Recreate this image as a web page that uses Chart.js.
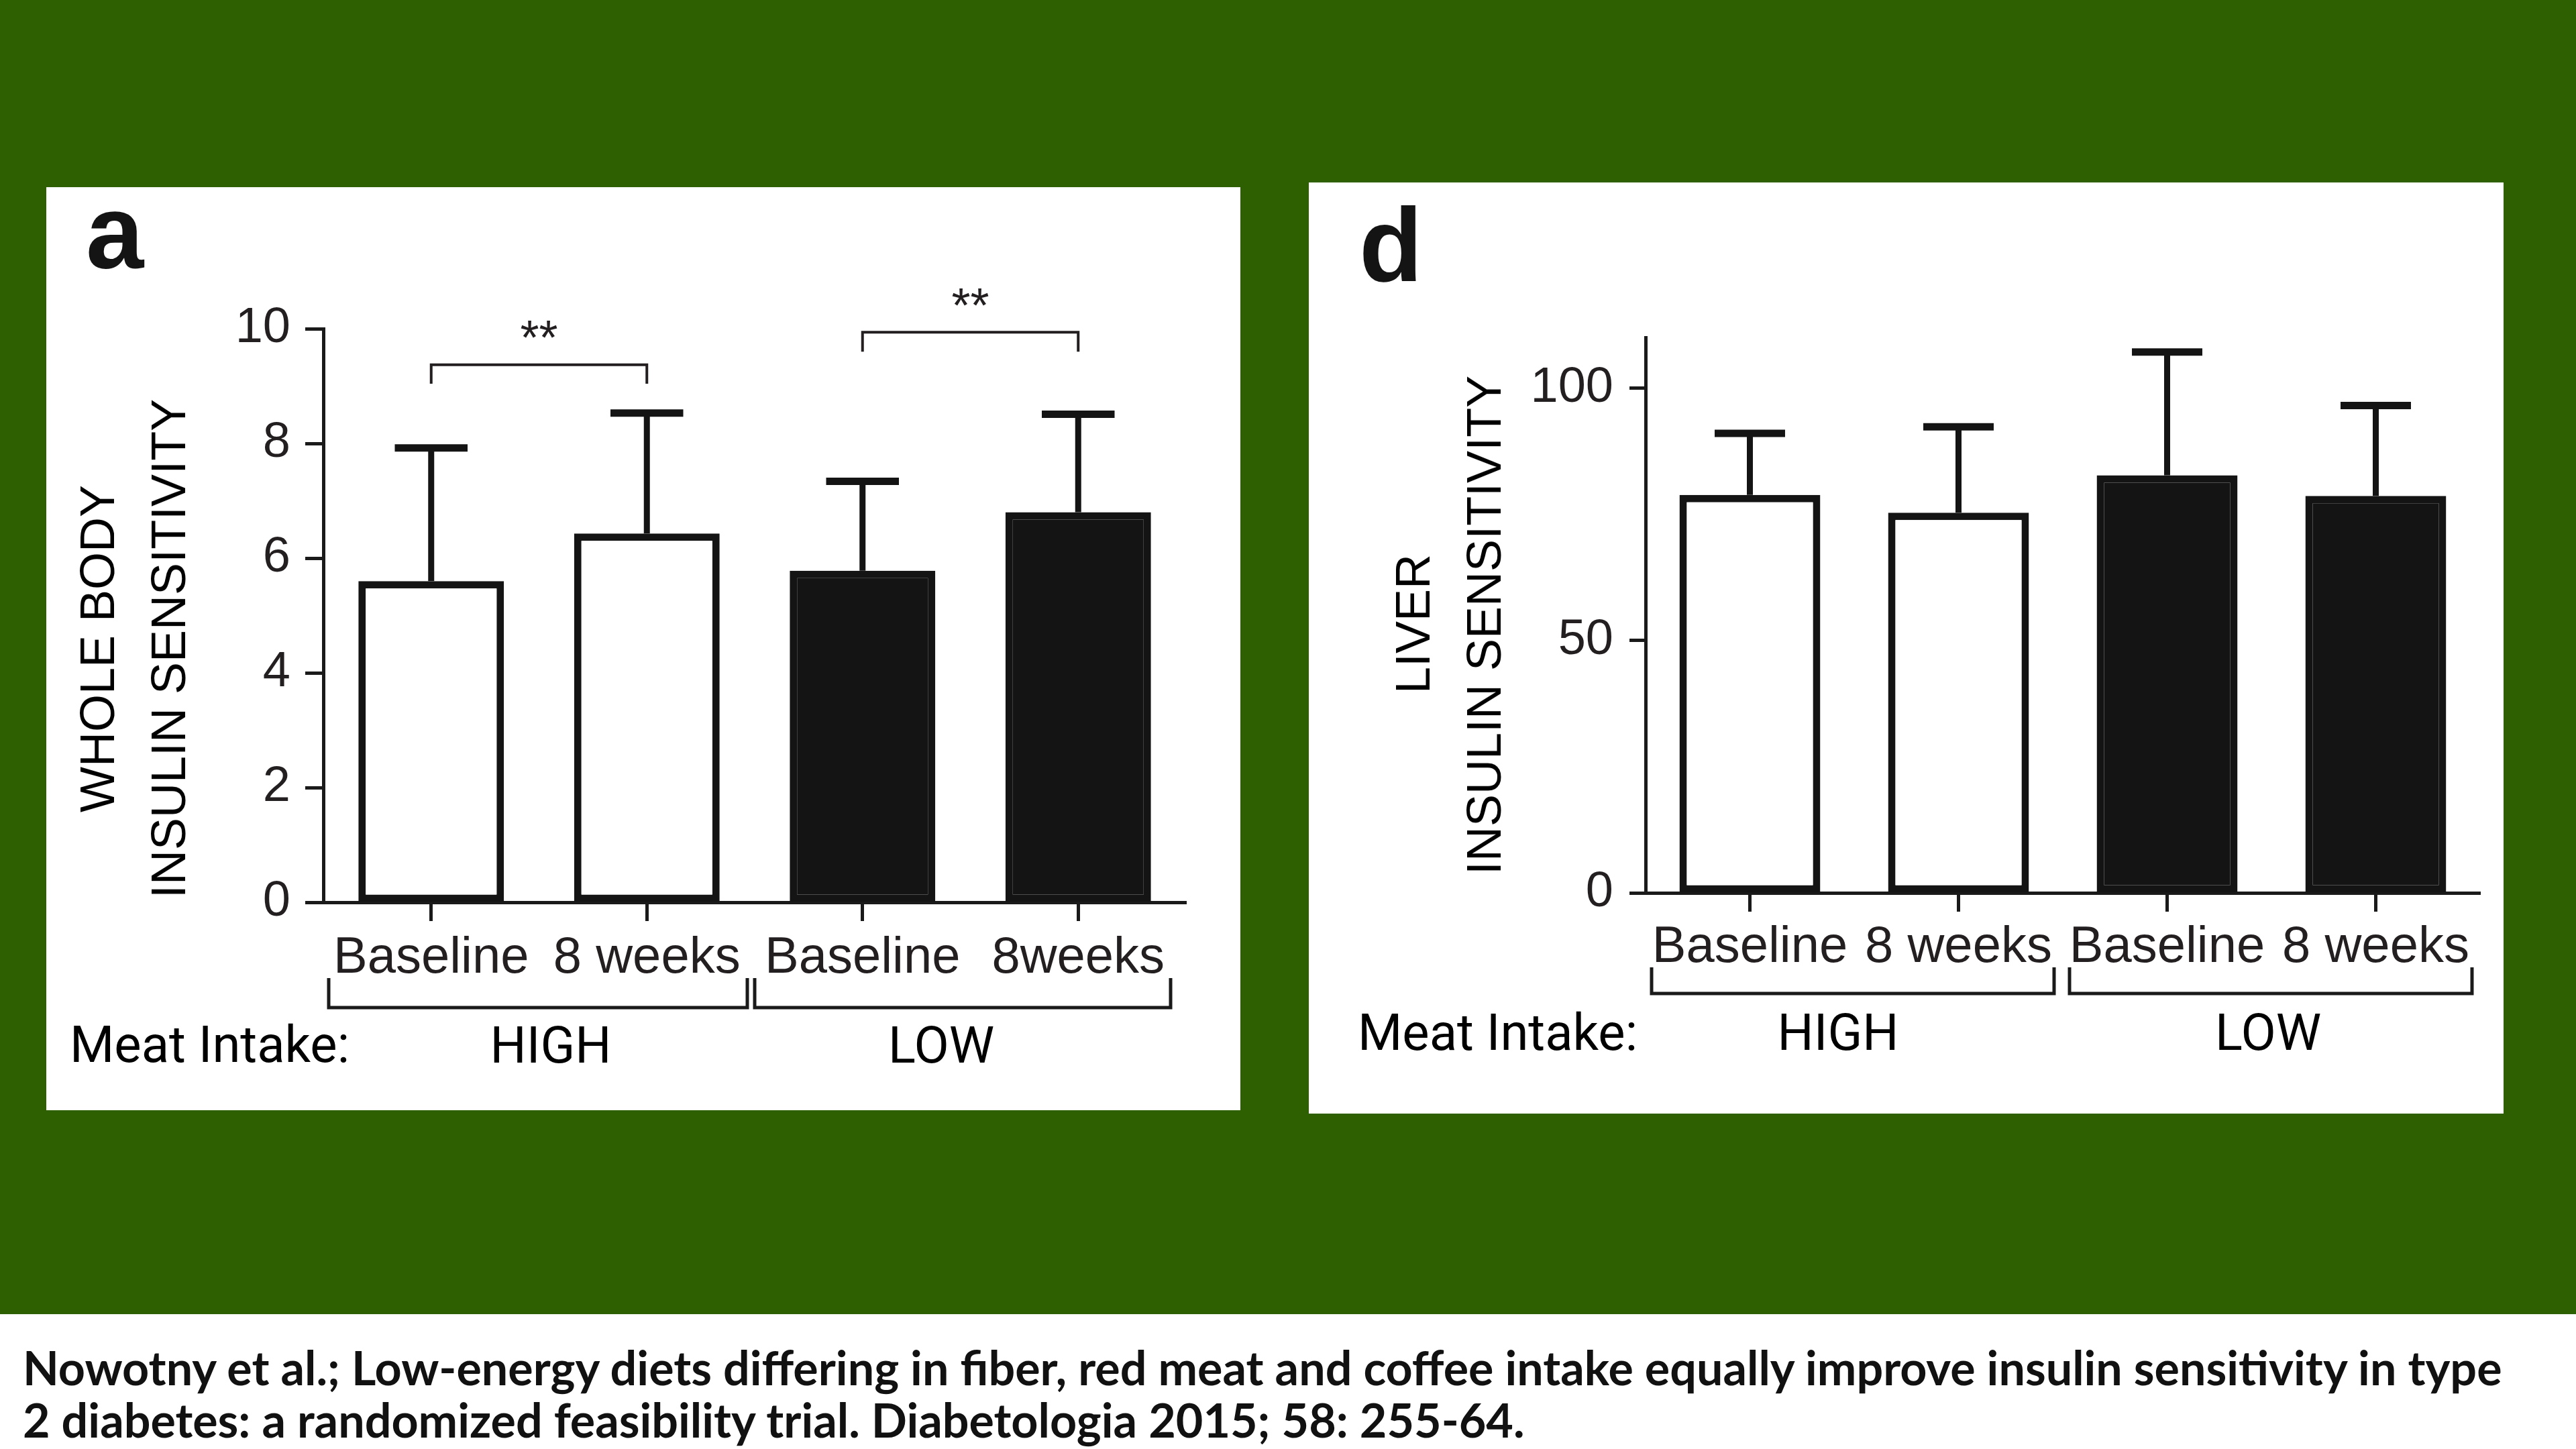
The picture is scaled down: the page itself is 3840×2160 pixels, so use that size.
<!DOCTYPE html>
<html>
<head>
<meta charset="utf-8">
<script src="https://cdn.jsdelivr.net/npm/chart.js@4.4.0/dist/chart.umd.min.js"></script>
<style>
  body { margin: 0; width: 3840px; height: 2160px; background: #2e5f00; position: relative; overflow: hidden; font-family: 'Liberation Sans', Arial, sans-serif; }
  .panel { position: absolute; background: #fff; }
  .panel canvas { position: absolute; left: 0; top: 0; }
  .t { position: absolute; white-space: nowrap; line-height: 1; color: #000; }
  .c { transform: translate(-50%, -50%); }
  .l { transform: translate(0, -50%); }
  .v { transform: translate(-50%, -50%) rotate(-90deg); }
  .letter { font-family: 'Liberation Sans', Arial, sans-serif; font-weight: bold; font-size: 155px; color: #141414; }
  .ytitle { font-family: 'Liberation Sans', Arial, sans-serif; font-size: 72px; }
  .grp { font-family: Roboto, sans-serif; font-size: 76px; }
  #band { position: absolute; left: 0; top: 1959px; width: 3840px; height: 201px; background: #fff; }
  .cap { position: absolute; left: 34px; white-space: nowrap; line-height: 1; font-family: Lato, 'Noto Sans', sans-serif; font-weight: 700; font-size: 60px; color: #111; transform: translate(0, -50%); }
</style>
</head>
<body>

<div class="panel" style="left:69px; top:279px; width:1780px; height:1376px;">
  <canvas id="graficoA" width="1780" height="1376"></canvas>
</div>
<div class="panel" style="left:1951px; top:272px; width:1781px; height:1388px;">
  <canvas id="graficoD" width="1781" height="1388"></canvas>
</div>

<!-- textos panel a -->
<div class="t l letter" style="left:128px; top:345px;">a</div>
<div class="t v ytitle" style="left:145px; top:967px;">WHOLE BODY</div>
<div class="t v ytitle" style="left:251px; top:967px;">INSULIN SENSITIVITY</div>
<div class="t l grp" style="left:104px; top:1557px;">Meat Intake:</div>
<div class="t c grp" style="left:821px; top:1558px;">HIGH</div>
<div class="t c grp" style="left:1403px; top:1558px;">LOW</div>

<!-- textos panel d -->
<div class="t l letter" style="left:2026px; top:365px;">d</div>
<div class="t v ytitle" style="left:2106px; top:930px;">LIVER</div>
<div class="t v ytitle" style="left:2212px; top:932px;">INSULIN SENSITIVITY</div>
<div class="t l grp" style="left:2024px; top:1539px;">Meat Intake:</div>
<div class="t c grp" style="left:2740px; top:1539px;">HIGH</div>
<div class="t c grp" style="left:3381px; top:1539px;">LOW</div>

<div id="band"></div>
<div class="cap" id="cap1" style="top:2038px;">Nowotny et al.; Low-energy diets differing in fiber, red meat and coffee intake equally improve insulin sensitivity in type</div>
<div class="cap" id="cap2" style="top:2116px;">2 diabetes: a randomized feasibility trial. Diabetologia 2015; 58: 255-64.</div>

<script>
// datos
var etiquetasA = ["Baseline", "8 weeks", "Baseline", "8weeks"];
var etiquetasD = ["Baseline", "8 weeks", "Baseline", "8 weeks"];
var mediaA = [5.6, 6.43, 5.78, 6.8];
var errorSupA = [7.92, 8.53, 7.34, 8.51];
var mediaD = [78.8, 75.3, 82.7, 78.6];
var errorSupD = [91.0, 92.3, 107.1, 96.5];
var ticksA = [0, 2, 4, 6, 8, 10];
var ticksD = [0, 50, 100];
// significancia (solo panel a): pares, altura del corchete, patas, texto
var sigPares = [[0, 1], [2, 3]];
var sigAltura = [9.37, 9.94];
var sigPatas = [9.04, 9.6];
var sigTexto = [10.04, 10.6];
var sigEtiqueta = ["**", "**"];

var NEGRO = "#141414";
var TEXTO = "#231f20";
var rellenos = ["#ffffff", "#ffffff", NEGRO, NEGRO];

// barras de error (solo hacia arriba)
var pluginError = {
  id: "barrasError",
  afterDatasetsDraw: function (chart, args, opts) {
    var ctx = chart.ctx;
    var y = chart.scales.y;
    var meta = chart.getDatasetMeta(0);
    ctx.save();
    ctx.strokeStyle = NEGRO;
    ctx.lineCap = "butt";
    meta.data.forEach(function (bar, i) {
      var tope = y.getPixelForValue(opts.superior[i]);
      var medio = bar.width * 0.25;
      ctx.lineWidth = 9;
      ctx.beginPath();
      ctx.moveTo(bar.x, bar.y);
      ctx.lineTo(bar.x, tope);
      ctx.stroke();
      ctx.lineWidth = 11;
      ctx.beginPath();
      ctx.moveTo(bar.x - medio, tope);
      ctx.lineTo(bar.x + medio, tope);
      ctx.stroke();
    });
    ctx.restore();
  },
};

// corchetes debajo de las etiquetas (HIGH / LOW)
var pluginGrupos = {
  id: "corchetes",
  afterDraw: function (chart, args, opts) {
    var ctx = chart.ctx;
    var x = chart.scales.x;
    var base = chart.chartArea.bottom;
    var ancho = x.getPixelForValue(1) - x.getPixelForValue(0);
    ctx.save();
    ctx.strokeStyle = "#1a1a1a";
    ctx.lineWidth = 5;
    opts.grupos.forEach(function (g) {
      var izq = x.getPixelForValue(g.desde) - ancho / 2 + g.margen[0];
      var der = x.getPixelForValue(g.hasta) + ancho / 2 - g.margen[1];
      ctx.beginPath();
      ctx.moveTo(izq, base + opts.arriba);
      ctx.lineTo(izq, base + opts.abajo);
      ctx.lineTo(der, base + opts.abajo);
      ctx.lineTo(der, base + opts.arriba);
      ctx.stroke();
    });
    ctx.restore();
  },
};

// corchetes de significancia
var pluginSig = {
  id: "significancia",
  afterDraw: function (chart, args, opts) {
    if (!opts.activo) return;
    var ctx = chart.ctx;
    var x = chart.scales.x;
    var y = chart.scales.y;
    ctx.save();
    ctx.strokeStyle = TEXTO;
    ctx.fillStyle = TEXTO;
    ctx.lineWidth = 4;
    ctx.font = "72px 'Liberation Sans', Arial, sans-serif";
    ctx.textAlign = "center";
    ctx.textBaseline = "alphabetic";
    sigPares.forEach(function (par, i) {
      var x1 = x.getPixelForValue(par[0]);
      var x2 = x.getPixelForValue(par[1]);
      var yb = y.getPixelForValue(sigAltura[i]);
      var yp = y.getPixelForValue(sigPatas[i]);
      ctx.beginPath();
      ctx.moveTo(x1, yp);
      ctx.lineTo(x1, yb);
      ctx.lineTo(x2, yb);
      ctx.lineTo(x2, yp);
      ctx.stroke();
      ctx.fillText(sigEtiqueta[i], (x1 + x2) / 2, y.getPixelForValue(sigTexto[i]) + 41);
    });
    ctx.restore();
  },
};

function crearGrafico(id, cfg) {
  var ctx = document.getElementById(id);
  return new Chart(ctx, {
    type: "bar",
    data: {
      labels: cfg.etiquetas,
      datasets: [
        {
          data: cfg.media,
          backgroundColor: rellenos,
          borderColor: NEGRO,
          borderWidth: 11,
          borderSkipped: false,
          barPercentage: 0.675,
          categoryPercentage: 1,
        },
      ],
    },
    options: {
      responsive: false,
      animation: false,
      devicePixelRatio: 1,
      layout: { padding: cfg.padding },
      plugins: {
        legend: { display: false },
        tooltip: { enabled: false },
        barrasError: { superior: cfg.superior },
        corchetes: { grupos: cfg.grupos, arriba: cfg.corchete[0], abajo: cfg.corchete[1] },
        significancia: { activo: cfg.sig },
      },
      scales: {
        x: {
          afterFit: function (s) { s.height = cfg.altoX; },
          grid: { display: true, drawOnChartArea: false, offset: false, color: "#1a1a1a", tickLength: 28, tickWidth: 5 },
          border: { display: true, color: "#1a1a1a", width: 5 },
          ticks: { color: TEXTO, padding: cfg.padX, font: { family: "'Liberation Sans', Arial, sans-serif", size: 76, lineHeight: 1 } },
        },
        y: {
          min: 0,
          max: cfg.max,
          afterFit: function (s) { s.width = cfg.anchoY; },
          afterBuildTicks: function (s) { s.ticks = cfg.ticks.map(function (v) { return { value: v }; }); },
          grid: { display: true, drawOnChartArea: false, color: "#1a1a1a", tickLength: cfg.largoTick, tickWidth: 5 },
          border: { display: true, color: "#1a1a1a", width: 5 },
          ticks: { color: TEXTO, padding: cfg.padTick, font: { family: "'Liberation Sans', Arial, sans-serif", size: 74 } },
        },
      },
    },
    plugins: [pluginError, pluginGrupos, pluginSig],
  });
}

window.onload = function () {
  // ajustar el pie al ancho de la linea
  var c1 = document.getElementById("cap1");
  var c2 = document.getElementById("cap2");
  var tam = 60 * 3696 / c1.getBoundingClientRect().width;
  c1.style.fontSize = tam + "px";
  c2.style.fontSize = tam + "px";

  crearGrafico("graficoA", {
    etiquetas: etiquetasA,
    media: mediaA,
    superior: errorSupA,
    max: 10,
    ticks: ticksA,
    padding: { left: 0, top: 211, right: 81, bottom: 0 },
    anchoY: 413,
    altoX: 310,
    largoTick: 27,
    padTick: 22,
    padX: 18,
    corchete: [113, 157],
    grupos: [
      { desde: 0, hasta: 1, margen: [8, 11] },
      { desde: 2, hasta: 3, margen: [0, 23] },
    ],
    sig: true,
  });

  crearGrafico("graficoD", {
    etiquetas: etiquetasD,
    media: mediaD,
    superior: errorSupD,
    max: 110,
    ticks: ticksD,
    padding: { left: 0, top: 231, right: 35, bottom: 0 },
    anchoY: 502,
    altoX: 329,
    largoTick: 24,
    padTick: 24,
    padX: 16,
    corchete: [111, 150],
    grupos: [
      { desde: 0, hasta: 1, margen: [9, 13] },
      { desde: 2, hasta: 3, margen: [10, 12] },
    ],
    sig: false,
  });
};
</script>
</body>
</html>
